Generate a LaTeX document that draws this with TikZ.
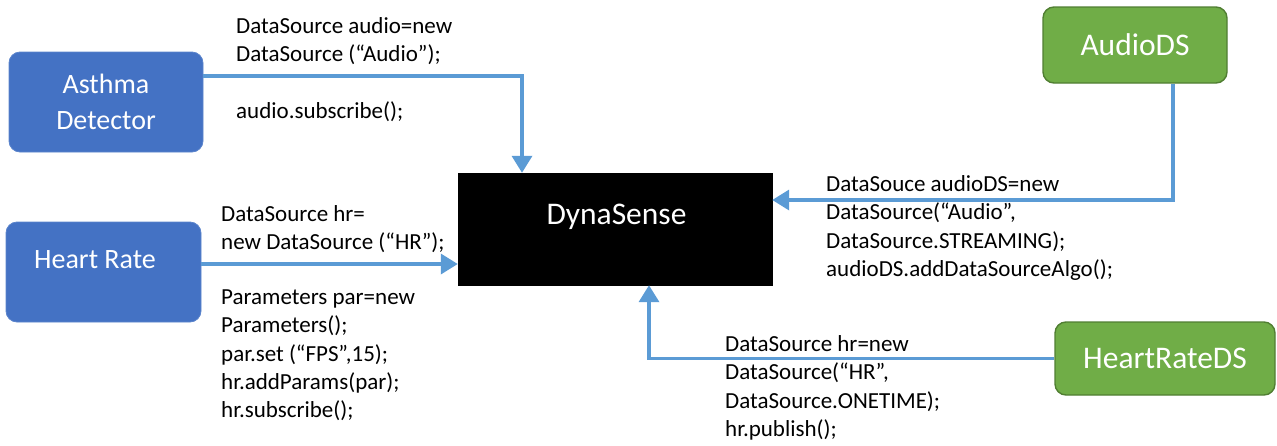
\documentclass[tikz,border=0pt]{standalone}
\usepackage{fontspec}
\setmainfont{Carlito}
\usetikzlibrary{arrows.meta}

\definecolor{boxblue}{HTML}{4472C4}
\definecolor{boxblueedge}{HTML}{5B84CC}
\definecolor{boxgreen}{HTML}{70AD47}
\definecolor{boxgreenedge}{HTML}{507E32}
\definecolor{linkblue}{HTML}{5B9BD5}

\tikzset{
  appbox/.style={rounded corners=11pt, fill=boxblue, draw=boxblueedge, line width=0.8pt,
    text=white, inner sep=0pt, align=center,
    font=\fontsize{28}{36}\selectfont},
  dsbox/.style={rounded corners=11pt, fill=boxgreen, draw=boxgreenedge, line width=1.4pt,
    text=white, inner sep=0pt, align=center,
    font=\fontsize{31.5}{36}\selectfont},
  corebox/.style={fill=black, draw=black, inner sep=0pt},
  boxlabel/.style={text=white, inner sep=0pt, font=\fontsize{28}{34}\selectfont},
  % multi-line code blocks: the base anchor sits on the last line's baseline
  codetext/.style={anchor=base west, inner sep=0pt, align=left,
    font=\fontsize{23}{28.3}\selectfont},
  link/.style={draw=linkblue, line width=3.5pt,
    -{Triangle[width=20pt,length=17pt]}}
}

\begin{document}
\begin{tikzpicture}[x=1pt,y=-1pt]
\useasboundingbox (0,0) rectangle (1277,445);

% application boxes
\node[appbox, minimum width=194pt, minimum height=100pt] (asthma) at (106,102)
  {Asthma\\Detector};
\node[appbox, minimum width=195pt, minimum height=100pt] (heart) at (103.5,272) {};
\node[boxlabel] (heartlbl) at (95,260) {Heart Rate};

% middleware core
\node[corebox, minimum width=314pt, minimum height=112pt] (dyna) at (615,229) {};
\node[boxlabel, font=\fontsize{31.5}{36}\selectfont] (dynalbl) at (616.5,217) {DynaSense};

% data source boxes
\node[dsbox, minimum width=184pt, minimum height=76pt] (audiods) at (1135,45) {AudioDS};
\node[dsbox, minimum width=220pt, minimum height=73pt] (hrds) at (1165,358.5) {HeartRateDS};

% connectors
\draw[link] ([yshift=26pt]asthma.east) -| ([xshift=-93pt]dyna.north);
\coordinate (hrout) at ([yshift=8pt]heart.east);
\draw[link] (hrout) -- (hrout -| dyna.west);
\draw[link] ([xshift=38pt]audiods.south) |- ([yshift=29pt]dyna.east);
\draw[link] (hrds.west) -| ([xshift=34pt]dyna.south);

% code snippets
\node[codetext] (codeA1) at (236,61.8)
  {DataSource audio=new\\DataSource (“Audio”);};
\node[codetext] (codeA2) at (236,118) {audio.subscribe();};

\node[codetext] (codeH1) at (221,249.8)
  {DataSource hr=\\new DataSource (“HR”);};
\node[codetext] (codeH2) at (221,417.7)
  {Parameters par=new\\Parameters();\\par.set (“FPS”,15);\\hr.addParams(par);\\hr.subscribe();};

\node[codetext] (codeAD) at (826,276.4)
  {DataSouce audioDS=new\\DataSource(“Audio”,\\DataSource.STREAMING);\\audioDS.addDataSourceAlgo();};

\node[codetext] (codeHD) at (725,436.4)
  {DataSource hr=new\\DataSource(“HR”,\\DataSource.ONETIME);\\hr.publish();};
\end{tikzpicture}
\end{document}
